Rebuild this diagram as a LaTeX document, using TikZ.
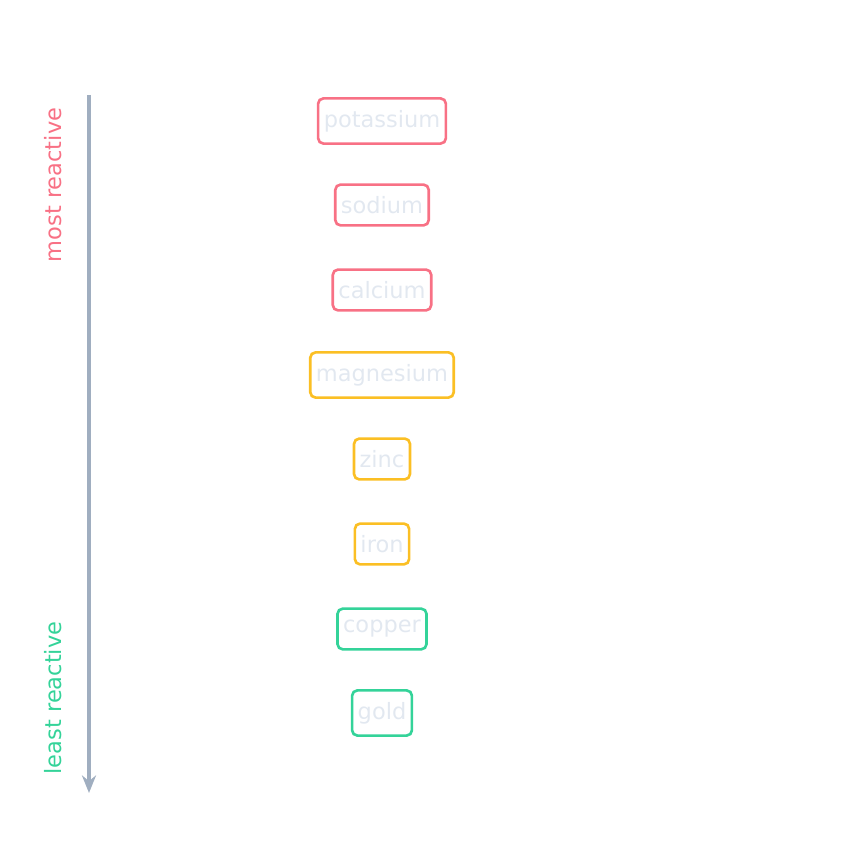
\documentclass[tikz,border=0pt]{standalone}
\usepackage{fontspec}
\setmainfont{DejaVu Sans}
\usetikzlibrary{arrows.meta}
\definecolor{hot}{HTML}{F87185}
\definecolor{mid}{HTML}{FBBF24}
\definecolor{cool}{HTML}{34D399}
\definecolor{axis}{HTML}{A0AEC0}
\definecolor{pale}{HTML}{E2E8F0}
\begin{document}
\begin{tikzpicture}[every node/.style={font=\fontsize{6.4}{7}\selectfont},
  metal/.style={rectangle,rounded corners=1.5pt,draw,line width=0.75pt,text=pale,minimum height=9.6pt,inner xsep=1.6pt}]
  \useasboundingbox (0,0) rectangle (8.46,8.46);

  \node (k)  [metal,draw=hot] at (3.82,7.25) {potassium};
  \node (na) [metal,draw=hot] at (3.82,6.41) {sodium};
  \node (ca) [metal,draw=hot] at (3.82,5.56) {calcium};
  \node (mg) [metal,draw=mid] at (3.82,4.71) {magnesium};
  \node (zn) [metal,draw=mid] at (3.82,3.87) {zinc};
  \node (fe) [metal,draw=mid] at (3.82,3.02) {iron};
  \node (cu) [metal,draw=cool] at (3.82,2.17) {copper};
  \node (au) [metal,draw=cool] at (3.82,1.33) {gold};

  \coordinate (top) at (0.89,7.51);
  \coordinate (bot) at (0.89,0.53);
  \draw[axis,line width=1.1pt,-{Stealth[length=5pt,width=4pt]}] (top) -- (bot);

  \node (most)  [text=hot,rotate=90] at (0.53,6.61) {most reactive};
  \node (least) [text=cool,rotate=90] at (0.53,1.48) {least reactive};
\end{tikzpicture}
\end{document}
